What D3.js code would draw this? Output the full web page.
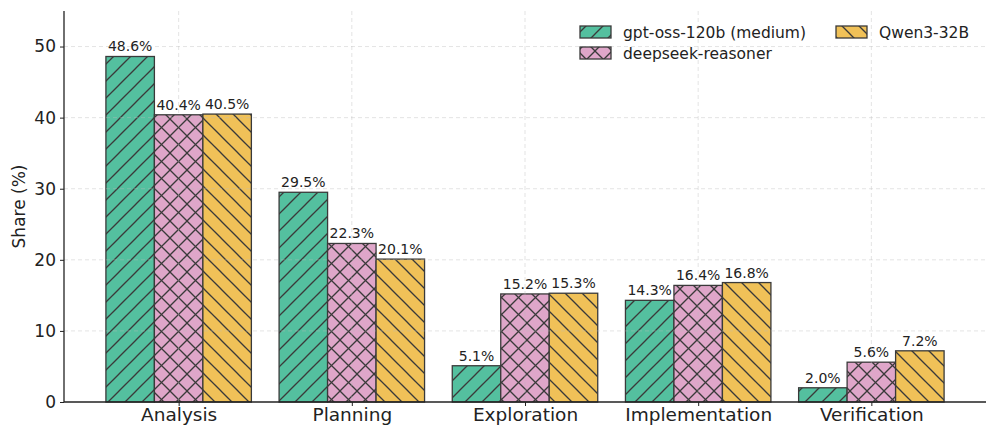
<!DOCTYPE html>
<html><head><meta charset="utf-8">
<script src="https://cdn.jsdelivr.net/npm/d3@7"></script>
<style>body{margin:0;background:#fff}svg{display:block}text{font-family:"DejaVu Sans",sans-serif;fill:#222}</style>
</head><body><svg id="c" width="997" height="437"></svg>
<script>
const categories = ["Analysis","Planning","Exploration","Implementation","Verification"];
const seriesNames = ["gpt-oss-120b (medium)","deepseek-reasoner","Qwen3-32B"];
const gptValues = [48.6, 29.5, 5.1, 14.3, 2.0];
const deepseekValues = [40.4, 22.3, 15.2, 16.4, 5.6];
const qwenValues = [40.5, 20.1, 15.3, 16.8, 7.2];
const yTicks = [0,10,20,30,40,50];
const colors = ["#54c09f","#dfa6c9","#f0c158"];
const hatches = ["hatchFwd","hatchCross","hatchBack"];
const series = [gptValues, deepseekValues, qwenValues];

const svg = d3.select("#c");
const L=64, R=986, T=11, B=402;
const x = d3.scaleLinear().domain([-0.662, 4.662]).range([L, R]);
const y = d3.scaleLinear().domain([0, 55]).range([B, T]);
const barW = 0.28;
const edge = "#3a3a3a";
const P = 17;

const defs = svg.append("defs");
function pat(id, color, fwd, back){
  const p = defs.append("pattern").attr("id", id).attr("patternUnits","userSpaceOnUse")
    .attr("width",P).attr("height",P);
  p.append("rect").attr("width",P).attr("height",P).attr("fill",color);
  const lines = [];
  if (fwd) lines.push([-2,P+2,P+2,-2],[-2,2,2,-2],[P-2,P+2,P+2,P-2]);
  if (back) lines.push([-2,-2,P+2,P+2],[P-2,-2,P+2,2],[-2,P-2,2,P+2]);
  lines.forEach(l => p.append("line").attr("x1",l[0]).attr("y1",l[1]).attr("x2",l[2]).attr("y2",l[3])
    .attr("stroke",edge).attr("stroke-width",1.3));
}
pat("hatchFwd", colors[0], true, false);
pat("hatchBack", colors[2], false, true);
pat("hatchCross", colors[1], true, true);

// bars
series.forEach((vals, s) => {
  const g = svg.append("g");
  vals.forEach((v, i) => {
    const cx = i + (s - 1) * barW;
    const x0 = x(cx - barW/2), x1 = x(cx + barW/2);
    g.append("rect").attr("x", x0).attr("y", y(v)).attr("width", x1 - x0).attr("height", y(0) - y(v))
      .attr("fill", `url(#${hatches[s]})`).attr("stroke", edge).attr("stroke-width", 1.3);
    g.append("text").attr("x", (x0 + x1)/2).attr("y", y(v) - 5).attr("text-anchor","middle")
      .attr("font-size", 14).text(v.toFixed(1) + "%");
  });
});

// grid (on top, faint)
const grid = svg.append("g").attr("stroke","#bbb").attr("stroke-opacity",0.5).attr("stroke-dasharray","4,3").attr("stroke-width",0.8);
yTicks.filter(t=>t>0).forEach(t => grid.append("line").attr("x1",L).attr("x2",R).attr("y1",y(t)).attr("y2",y(t)));
categories.forEach((c,i) => grid.append("line").attr("x1",x(i)).attr("x2",x(i)).attr("y1",T).attr("y2",B));

// axes
const yAxis = svg.append("g").attr("transform",`translate(${L},0)`)
  .call(d3.axisLeft(y).tickValues(yTicks).tickSize(4).tickPadding(4));
yAxis.select(".domain").attr("d", `M0,${T}V${B}`).attr("stroke","#222").attr("stroke-width",1.3);
yAxis.selectAll(".tick line").attr("stroke","#222");
yAxis.selectAll(".tick text").attr("font-size",17).attr("font-family","DejaVu Sans").attr("fill","#222");

const xAxis = svg.append("g").attr("transform",`translate(0,${B})`)
  .call(d3.axisBottom(x).tickValues(d3.range(categories.length)).tickFormat(i=>categories[i]).tickSize(4).tickPadding(2));
xAxis.select(".domain").attr("d", `M${L},0H${R}`).attr("stroke","#222").attr("stroke-width",1.3);
xAxis.selectAll(".tick line").attr("stroke","#222");
xAxis.selectAll(".tick text").attr("font-size",18.5).attr("font-family","DejaVu Sans").attr("fill","#222");

svg.append("text").attr("transform",`translate(25,${(T+B)/2}) rotate(-90)`).attr("text-anchor","middle")
  .attr("font-size",17).text("Share (%)");

// legend
const legPos = [[580,32],[580,53],[836,32]];
seriesNames.forEach((n, s) => {
  const [lx, ly] = legPos[s];
  svg.append("rect").attr("x", lx).attr("y", ly - 6).attr("width", 31).attr("height", 12)
    .attr("fill", `url(#${hatches[s]})`).attr("stroke", edge).attr("stroke-width", 1.3);
  svg.append("text").attr("x", lx + 43).attr("y", ly + 5.5).attr("font-size", 15.5).text(n);
});
</script></body></html>
